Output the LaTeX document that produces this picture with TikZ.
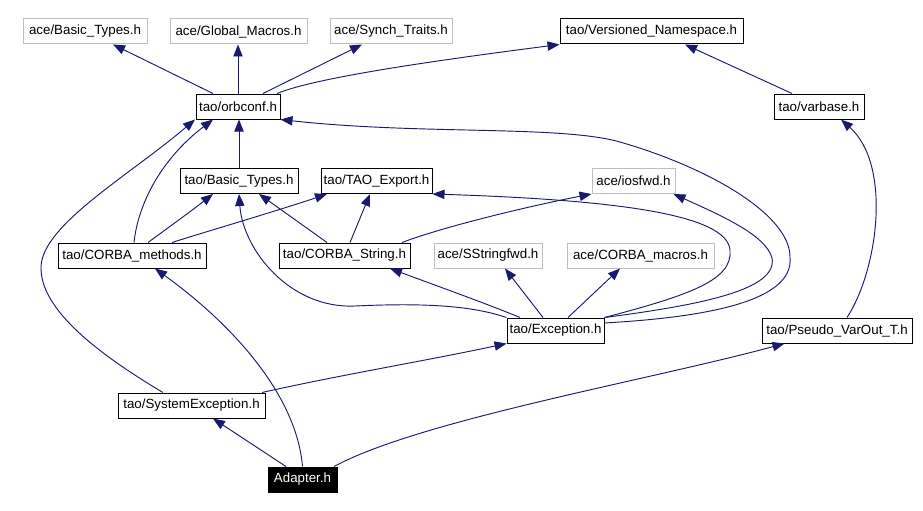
\documentclass[tikz,border=0pt]{standalone}
\usepackage{fontspec}
\setmainfont{Liberation Sans}
\usetikzlibrary{arrows.meta,calc}
\definecolor{edgeblue}{HTML}{191970}
\definecolor{graybd}{HTML}{BFBFBF}
\begin{document}
\begin{tikzpicture}[x=0.75pt,y=-0.75pt,
  box/.style={draw=black, line width=0.75pt, minimum height=18.75pt, minimum width=#1*0.75pt, inner sep=0pt, font=\fontsize{10}{12}\selectfont, text=black},
  gbox/.style={box=#1, draw=graybd},
  mainbox/.style={box=#1, fill=black, text=white},
  edge/.style={draw=edgeblue, line width=0.7pt, -{Triangle[length=9pt,width=7pt]}},
]
\fill[white] (0,0) rectangle (923,510);
\useasboundingbox (0,0) rectangle (923,510);

% nodes
\node[gbox=124] (aBT) at (85,31.5) {ace/Basic\_Types.h};
\node[gbox=137] (aGM) at (238.5,31.5) {ace/Global\_Macros.h};
\node[gbox=122] (aST) at (391,31.5) {ace/Synch\_Traits.h};
\node[box=183] (tVN) at (651.5,31.5) {tao/Versioned\_Namespace.h};
\node[box=84] (orb) at (238,106.5) {tao/orbconf.h};
\node[box=90] (varb) at (819,106.5) {tao/varbase.h};
\node[box=118] (tBT) at (239,181) {tao/Basic\_Types.h};
\node[box=111] (TAO) at (376.5,181) {tao/TAO\_Export.h};
\node[gbox=83] (ios) at (633.5,181) {ace/iosfwd.h};
\node[box=148] (CM) at (132,255.5) {tao/CORBA\_methods.h};
\node[box=131] (CS) at (344.5,255.5) {tao/CORBA\_String.h};
\node[gbox=108] (SSf) at (488,255.5) {ace/SStringfwd.h};
\node[gbox=147] (CMac) at (640.5,255.5) {ace/CORBA\_macros.h};
\node[box=97] (Exc) at (555.5,330.5) {tao/Exception.h};
\node[box=150] (PVO) at (837,330.5) {tao/Pseudo\_VarOut\_T.h};
\node[box=147] (SysE) at (191.5,405.5) {tao/SystemException.h};
\node[mainbox=69] (Adp) at (302.5,479.5) {Adapter.h};

% edges
\draw[edge] ($(orb.north)+(-25,0)$) -- ($(aBT.south)+(28,0)$);
\draw[edge] (orb.north) -- (orb.north |- aGM.south);
\draw[edge] ($(orb.north)+(25,0)$) -- ($(aST.south)+(-29,0)$);
\draw[edge] ($(orb.north)+(39,0)$) .. controls (310,80) and (400,65) .. (tVN.south west);
\draw[edge] ($(varb.north)+(-27,0)$) -- ($(tVN.south)+(33.5,0)$);
\draw[edge] (tBT.north) -- (tBT.north |- orb.south);
\draw[edge] ($(CM.north)+(2,0)$) .. controls (138,205) and (160,160) .. ($(orb.south)+(-25,0)$);
\draw[edge] ($(SysE.north)+(-28.5,0)$) .. controls (100,355) and (40,310) .. (41,267) .. controls (42,225) and (130,175) .. ($(orb.south)+(-43,0)$);
\draw[edge] ($(Exc.east)+(0,-7.5)$) .. controls (690,318) and (795,305) .. (790,257) .. controls (790,215) and (710,168) .. (620,142) .. controls (560,125) and (420,135) .. (orb.south east);
\draw[edge] (Exc.north east) .. controls (700,305) and (778,290) .. (772,258) .. controls (766,235) and (720,215) .. ($(ios.south east)+(-2,0)$);
\draw[edge] (Exc.north east) .. controls (690,295) and (733,280) .. (730,250) .. controls (727,215) and (620,200) .. (TAO.south east);
\draw[edge] ($(CS.north)+(57.5,0)$) .. controls (440,228) and (520,208) .. (ios.south west);
\draw[edge] (Exc.north west) .. controls (470,305) and (420,303) .. (355,306) .. controls (290,309) and (243,250) .. (tBT.south);
\draw[edge] ($(Exc.north)+(-35.5,0)$) .. controls (490,305) and (440,287) .. ($(CS.south)+(45.5,0)$);
\draw[edge] ($(Exc.north)+(-12.5,0)$) -- ($(SSf.south)+(17,0)$);
\draw[edge] ($(Exc.north)+(12.5,0)$) -- ($(CMac.south)+(-20.5,0)$);
\draw[edge] ($(CM.north)+(16,0)$) .. controls (165,230) and (190,212) .. ($(tBT.south)+(-26,0)$);
\draw[edge] ($(CM.north)+(40,0)$) .. controls (195,235) and (280,210) .. ($(TAO.south)+(-49.5,0)$);
\draw[edge] ($(CS.north)+(-17.5,0)$) -- ($(tBT.south)+(20,0)$);
\draw[edge] ($(CS.north)+(5.5,0)$) -- ($(TAO.south)+(-6.5,0)$);
\draw[edge] ($(Adp.north)+(-16.5,0)$) -- ($(SysE.south)+(21.5,0)$);
\draw[edge] (Adp.north) .. controls (297,400) and (240,330) .. ($(CM.south)+(23,0)$);
\draw[edge] ($(Adp.north)+(31.5,0)$) .. controls (420,420) and (650,380) .. ($(PVO.south west)+(23,0)$);
\draw[edge] ($(SysE.north)+(70.5,0)$) .. controls (340,375) and (430,360) .. (Exc.south west);
\draw[edge] ($(PVO.north)+(10,0)$) .. controls (878,270) and (892,165) .. ($(varb.south)+(22,0)$);
\end{tikzpicture}
\end{document}
